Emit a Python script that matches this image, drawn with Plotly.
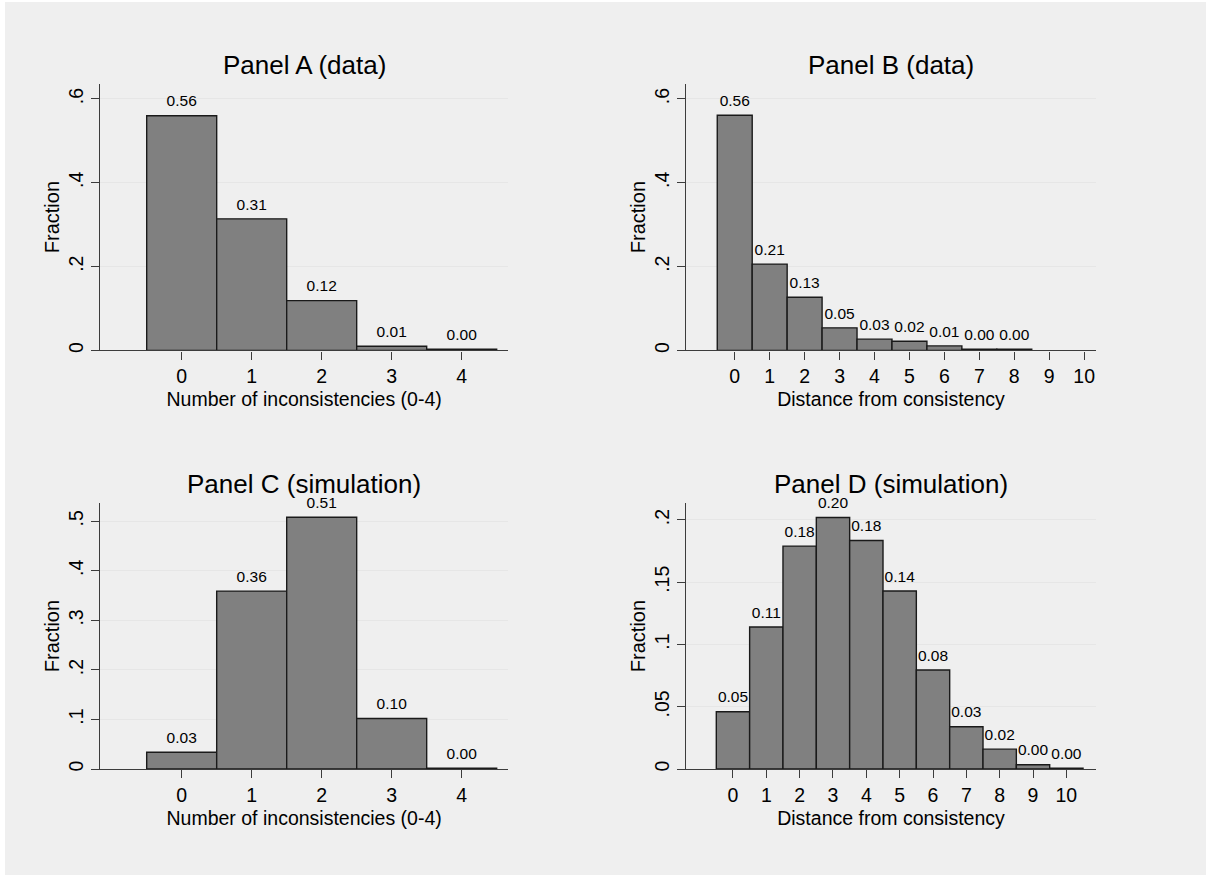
import plotly.graph_objects as go

# ---------------- data ----------------
a_cats = [0, 1, 2, 3, 4]
a_vals = [0.560, 0.314, 0.119, 0.010, 0.003]

b_cats = [0, 1, 2, 3, 4, 5, 6, 7, 8]
b_vals = [0.561, 0.206, 0.127, 0.054, 0.027, 0.022, 0.011, 0.003, 0.003]

c_cats = [0, 1, 2, 3, 4]
c_vals = [0.034, 0.359, 0.508, 0.102, 0.002]

d_cats = [0, 1, 2, 3, 4, 5, 6, 7, 8, 9, 10]
d_vals = [0.046, 0.114, 0.179, 0.202, 0.1835, 0.143, 0.0795, 0.034, 0.016, 0.0035, 0.0006]

titles = ["Panel A (data)", "Panel B (data)", "Panel C (simulation)", "Panel D (simulation)"]
x_titles = ["Number of inconsistencies (0-4)", "Distance from consistency",
            "Number of inconsistencies (0-4)", "Distance from consistency"]
y_title = "Fraction"

x_ticks_small = [0, 1, 2, 3, 4]
x_ticks_large = [0, 1, 2, 3, 4, 5, 6, 7, 8, 9, 10]

y_ticks_ab = [0, 0.2, 0.4, 0.6]
y_labels_ab = ["0", ".2", ".4", ".6"]
y_ticks_c = [0, 0.1, 0.2, 0.3, 0.4, 0.5]
y_labels_c = ["0", ".1", ".2", ".3", ".4", ".5"]
y_ticks_d = [0, 0.05, 0.1, 0.15, 0.2]
y_labels_d = ["0", ".05", ".1", ".15", ".2"]

# ---------------- layout geometry ----------------
W, H = 1206, 878
FONT = "Liberation Sans, Arial, Helvetica, sans-serif"
BG = "#efefef"
AXC = "#3c3c3c"

def xdom(l, r):
    return [l / W, r / W]

def ydom(t, b):
    return [1 - b / H, 1 - t / H]

panels = [
    dict(cats=a_cats, vals=a_vals, xt=x_ticks_small, xr=[-1.167, 4.666],
         yt=y_ticks_ab, yl=y_labels_ab, yr=[0, 0.6363],
         xd=xdom(100, 508.3), yd=ydom(84, 351.7)),
    dict(cats=b_cats, vals=b_vals, xt=x_ticks_large, xr=[-1.386, 10.33],
         yt=y_ticks_ab, yl=y_labels_ab, yr=[0, 0.6363],
         xd=xdom(686.3, 1095.7), yd=ydom(84, 351.7)),
    dict(cats=c_cats, vals=c_vals, xt=x_ticks_small, xr=[-1.167, 4.666],
         yt=y_ticks_c, yl=y_labels_c, yr=[0, 0.5368],
         xd=xdom(100, 508.3), yd=ydom(504.7, 771.7)),
    dict(cats=d_cats, vals=d_vals, xt=x_ticks_large, xr=[-1.40, 10.88],
         yt=y_ticks_d, yl=y_labels_d, yr=[0, 0.2136],
         xd=xdom(686.3, 1095.7), yd=ydom(504.7, 771.7)),
]

fig = go.Figure()
layout = dict(
    width=W, height=H,
    margin=dict(l=0, r=0, t=0, b=0),
    paper_bgcolor="white",
    plot_bgcolor="white",
    showlegend=False,
    font=dict(family=FONT, color="black"),
    annotations=[],
    shapes=[dict(type="rect", xref="paper", yref="paper",
                 x0=5 / W, x1=1, y0=0, y1=1 - 2 / H,
                 fillcolor=BG, line=dict(width=0), layer="below")],
)

for i, p in enumerate(panels):
    n = "" if i == 0 else str(i + 1)
    xa, ya = "x" + n, "y" + n
    fig.add_trace(go.Bar(
        x=p["cats"], y=p["vals"], width=1,
        marker=dict(color="#808080", line=dict(color="#1a1a1a", width=1.4)),
        xaxis=xa, yaxis=ya, hoverinfo="skip"))
    fig.add_trace(go.Scatter(
        x=p["cats"], y=p["vals"], mode="markers+text",
        marker=dict(size=7, opacity=0),
        texttemplate="%{y:.2f}", textposition="top center",
        textfont=dict(size=15.5, color="black", family=FONT),
        cliponaxis=False, xaxis=xa, yaxis=ya, hoverinfo="skip"))

    layout["xaxis" + n] = dict(
        domain=p["xd"], anchor=ya, range=p["xr"],
        tickmode="array", tickvals=p["xt"], ticktext=[str(v) for v in p["xt"]],
        ticks="outside", ticklen=8, tickwidth=1.2, tickcolor=AXC,
        showline=True, linecolor=AXC, linewidth=1.2,
        showgrid=False, zeroline=False,
        tickfont=dict(size=19.5, color="black"),
        title=dict(text=x_titles[i], font=dict(size=19.5, color="black"), standoff=6),
    )
    layout["yaxis" + n] = dict(
        domain=p["yd"], anchor=xa, range=p["yr"],
        tickmode="array", tickvals=p["yt"], ticktext=p["yl"], tickangle=-90,
        ticks="outside", ticklen=8, tickwidth=1.2, tickcolor=AXC,
        showline=True, linecolor=AXC, linewidth=1.2,
        showgrid=True, gridcolor="#e6e6e6", gridwidth=1.4, zeroline=False,
        tickfont=dict(size=19.5, color="black"),
        title=dict(text=y_title, font=dict(size=20, color="black"), standoff=0),
    )
    layout["annotations"].append(dict(
        text=titles[i], xref=xa + " domain", yref=ya + " domain",
        x=0.5, y=1, xanchor="center", yanchor="bottom", yshift=2,
        showarrow=False, font=dict(size=26, color="black", family=FONT)))

fig.update_layout(**layout)
fig.write_html(
    "out.html",
    config={"displayModeBar": False},
    post_script="document.body.style.margin='0px';document.body.style.overflow='hidden';",
)
